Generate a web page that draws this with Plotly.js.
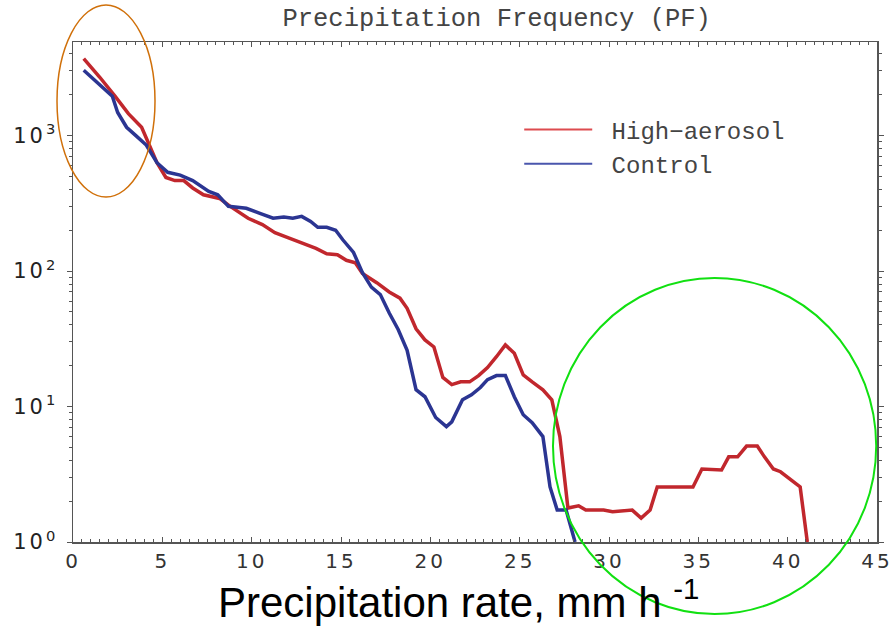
<!DOCTYPE html>
<html>
<head>
<meta charset="utf-8">
<script src="https://cdn.plot.ly/plotly-3.0.1.min.js"></script>
<style>
html,body{margin:0;padding:0;background:#fff;}
#chart{width:896px;height:628px;}
#chart .xtick text, #chart .ytick text{letter-spacing:3px;}
</style>
</head>
<body>
<div id="chart"></div>
<script>
// Precipitation rate (mm/h) and frequency for each experiment
const highX = [0.6, 1.5, 2.35, 3.1, 3.84, 4.2, 4.7, 5.2, 5.7, 6.2, 6.7, 7.3, 8.2, 8.8, 9.25, 9.8, 10.6, 11.3, 12.1, 13.1, 13.6, 14.2, 14.8, 15.3, 15.8, 16.2, 17.0, 17.7, 18.3, 18.7, 19.2, 19.7, 20.2, 20.7, 21.2, 21.7, 22.2, 22.7, 23.2, 23.7, 24.2, 24.7, 25.2, 25.7, 26.3, 26.8, 27.25, 27.7, 28.3, 28.7, 29.7, 30.2, 31.3, 31.8, 32.3, 32.7, 34.7, 35.2, 36.3, 36.7, 37.2, 37.7, 38.3, 38.7, 39.2, 39.6, 40.7, 41.1];
const highY = [3690, 2690, 1950, 1450, 1150, 890, 630, 490, 465, 465, 410, 365, 343, 300, 275, 245, 220, 192, 175, 157, 147, 134, 132, 120, 115, 96, 82, 70, 63, 53, 37.5, 31, 27.5, 16.4, 14.5, 15.2, 15.2, 16.9, 19.4, 23.3, 28.5, 24.7, 17.1, 15.2, 13.3, 11.2, 6.0, 1.78, 1.85, 1.72, 1.72, 1.67, 1.72, 1.5, 1.72, 2.55, 2.55, 3.46, 3.4, 4.25, 4.25, 5.1, 5.1, 4.25, 3.46, 3.3, 2.55, 1];
const ctrlX = [0.6, 1.4, 2.2, 2.5, 3.0, 3.55, 4.1, 4.7, 5.3, 6.0, 6.7, 7.6, 8.1, 8.7, 9.7, 10.5, 11.2, 11.8, 12.3, 12.8, 13.3, 13.7, 14.2, 14.7, 15.1, 15.7, 16.2, 16.7, 17.2, 17.7, 18.2, 18.7, 19.2, 19.7, 20.3, 20.9, 21.2, 21.8, 22.3, 22.8, 23.2, 23.7, 24.2, 24.7, 25.2, 25.7, 26.3, 26.7, 27.1, 27.6, 28.1];
const ctrlY = [3030, 2450, 1950, 1480, 1150, 990, 850, 630, 535, 510, 465, 387, 365, 300, 290, 265, 245, 250, 245, 253, 232, 210, 210, 200, 170, 137, 97, 76, 67, 49, 37, 26, 13.3, 11.8, 8.3, 7.1, 7.7, 11.2, 12.2, 13.8, 15.8, 16.9, 16.9, 11.8, 8.7, 7.6, 6.0, 2.55, 1.72, 1.72, 1];
const yTickVals = [1, 10, 100, 1000];
const yTickText = ['10<sup>0</sup>', '10<sup>1</sup>', '10<sup>2</sup>', '10<sup>3</sup>'];
const xTickVals = [0, 5, 10, 15, 20, 25, 30, 35, 40, 45];
const seriesNames = ['High\u2212aerosol', 'Control'];
const xTitle = 'Precipitation rate, mm h <sup>-1</sup>';

const traces = [
  {x: highX, y: highY, name: seriesNames[0], type: 'scatter', mode: 'lines', showlegend: false,
   line: {color: '#c1272d', width: 3.5}},
  {x: ctrlX, y: ctrlY, name: seriesNames[1], type: 'scatter', mode: 'lines', showlegend: false,
   line: {color: '#2b3592', width: 3.5}},
  // legend entries (thin lines as in the original key)
  {x: [null], y: [null], name: '\u00A0' + seriesNames[0], type: 'scatter', mode: 'lines',
   line: {color: '#dd4b4f', width: 2}},
  {x: [null], y: [null], name: '\u00A0' + seriesNames[1], type: 'scatter', mode: 'lines',
   line: {color: '#4a56ad', width: 2}}
];

const axisCol = '#555';
const tickFont = 'DejaVu Sans, Open Sans, sans-serif';
const layout = {
  width: 896, height: 628,
  margin: {l: 73, r: 19, t: 42, b: 86},
  paper_bgcolor: '#fff', plot_bgcolor: '#fff',
  showlegend: true,
  title: {text: 'Precipitation Frequency (PF)', x: 0.527, xanchor: 'center', xref: 'paper',
          y: 1 - 17/628, yref: 'container', yanchor: 'middle',
          font: {family: 'Liberation Mono, Courier New, monospace', size: 25.5, color: '#444'}},
  legend: {x: 0.555, y: 0.869, xanchor: 'left', yanchor: 'top', bgcolor: 'rgba(0,0,0,0)',
           font: {family: 'Liberation Mono, Courier New, monospace', size: 24, color: '#444'},
           itemwidth: 68},
  xaxis: {range: [0, 45], tickvals: xTickVals, showgrid: false, zeroline: false,
          showline: true, linecolor: axisCol, linewidth: 1.5, mirror: 'allticks',
          ticks: 'inside', ticklen: 5, tickcolor: axisCol,
          minor: {dtick: 0.5, ticks: 'inside', ticklen: 3, tickcolor: axisCol, showgrid: false},
          tickfont: {family: tickFont, size: 20, color: '#333'}},
  yaxis: {type: 'log', range: [0, 3.69], tickvals: yTickVals, ticktext: yTickText,
          showgrid: false, zeroline: false,
          showline: true, linecolor: axisCol, linewidth: 1.5, mirror: 'allticks',
          ticks: 'outside', ticklen: 5, tickcolor: axisCol, ticklabelstandoff: 4,
          minor: {dtick: 'D1', ticks: 'outside', ticklen: 3, tickcolor: axisCol, showgrid: false},
          tickfont: {family: tickFont, size: 21, color: '#222'}},
  annotations: [
    {text: xTitle, xref: 'paper', yref: 'paper', x: 0.48, y: -0.113, xanchor: 'center', yanchor: 'middle',
     showarrow: false,
     font: {family: 'Liberation Sans Narrow, Arial Narrow, Liberation Sans, sans-serif', size: 42, color: '#000'}}
  ],
  shapes: [
    {type: 'circle', xref: 'paper', yref: 'paper', x0: -0.0199, x1: 0.102, y0: 0.69, y1: 1.074,
     line: {color: '#d0700a', width: 1.5}, layer: 'above'},
    {type: 'circle', xref: 'paper', yref: 'paper', x0: 0.597, x1: 0.999, y0: -0.144, y1: 0.528,
     line: {color: '#11e011', width: 2}, layer: 'above'}
  ]
};

Plotly.newPlot('chart', traces, layout, {displayModeBar: false, staticPlot: true});
</script>
</body>
</html>
